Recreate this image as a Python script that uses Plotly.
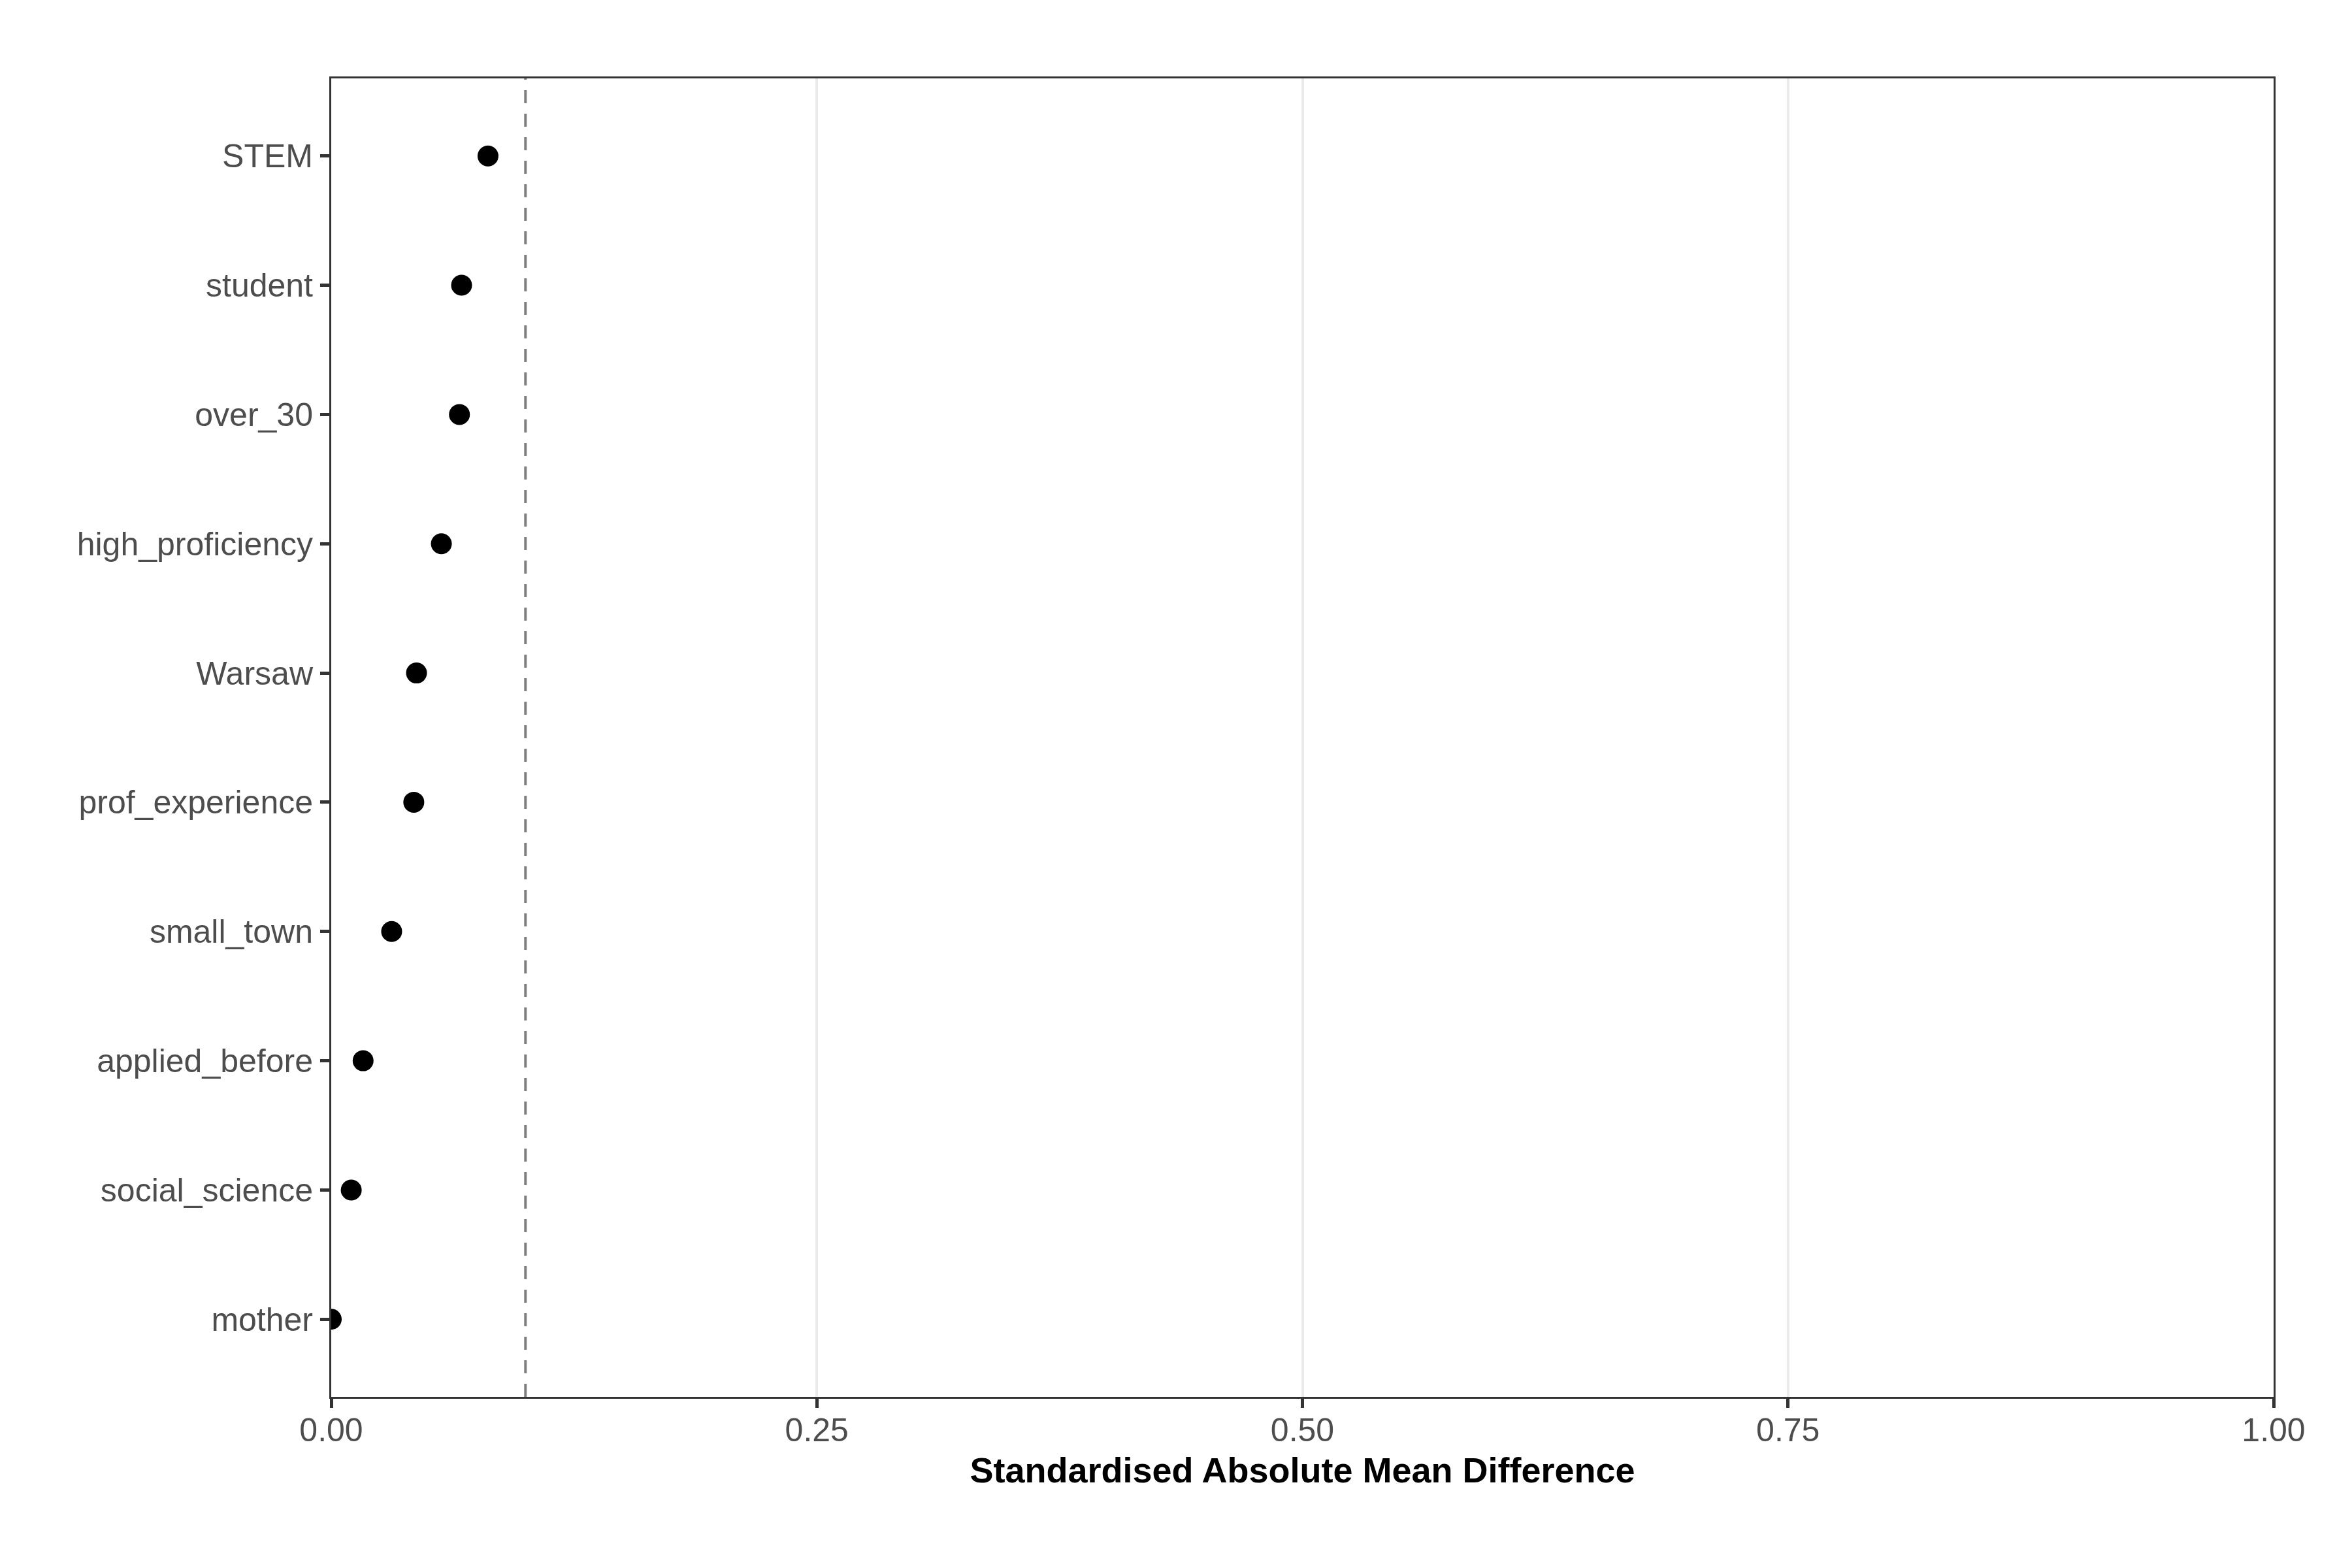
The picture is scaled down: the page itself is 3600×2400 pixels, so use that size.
import plotly.graph_objects as go

# Data (top-to-bottom order as shown)
variables = ["STEM", "student", "over_30", "high_proficiency", "Warsaw",
             "prof_experience", "small_town", "applied_before", "social_science", "mother"]
smd_values = [0.0807, 0.0671, 0.0660, 0.0567, 0.0439,
              0.0425, 0.0311, 0.0164, 0.0103, 0.0]
threshold = 0.1
x_ticks = [0.0, 0.25, 0.5, 0.75, 1.0]
x_title = "Standardised Absolute Mean Difference"

FONT = "Liberation Sans, Arial, Helvetica, sans-serif"

fig = go.Figure()
fig.add_trace(go.Scatter(
    x=smd_values, y=variables, mode="markers",
    marker=dict(color="black", size=32, line=dict(width=0)),
    cliponaxis=True, showlegend=False,
))

fig.add_shape(type="line", xref="x", yref="paper",
              x0=threshold, x1=threshold, y0=0, y1=1,
              line=dict(color="#808080", width=4, dash="20px,16px"),
              layer="below")

fig.update_layout(
    width=3600, height=2400,
    margin=dict(l=499, r=128, t=112, b=270),
    paper_bgcolor="white", plot_bgcolor="white",
    font=dict(family=FONT, size=50, color="#4D4D4D"),
    xaxis=dict(
        range=[0, 1], tickvals=x_ticks, tickformat=".2f",
        showgrid=True, gridcolor="#EBEBEB", gridwidth=4,
        zeroline=False,
        showline=True, linecolor="#333333", linewidth=3, mirror=True,
        ticks="outside", ticklen=14, tickwidth=5, tickcolor="#333333",
        ticklabelstandoff=-9,
        tickfont=dict(family=FONT, size=50, color="#4D4D4D"),
        title=dict(text="<b>" + x_title + "</b>",
                   font=dict(family=FONT, size=54, color="black"),
                   standoff=16),
    ),
    yaxis=dict(
        type="category", categoryorder="array",
        categoryarray=list(reversed(variables)),
        range=[-0.6, len(variables) - 0.4],
        showgrid=False, zeroline=False,
        showline=True, linecolor="#333333", linewidth=3, mirror=True,
        ticks="outside", ticklen=14, tickwidth=5, tickcolor="#333333",
        ticklabelstandoff=1,
        tickfont=dict(family=FONT, size=50, color="#4D4D4D"),
    ),
)

fig.write_html("out.html")
